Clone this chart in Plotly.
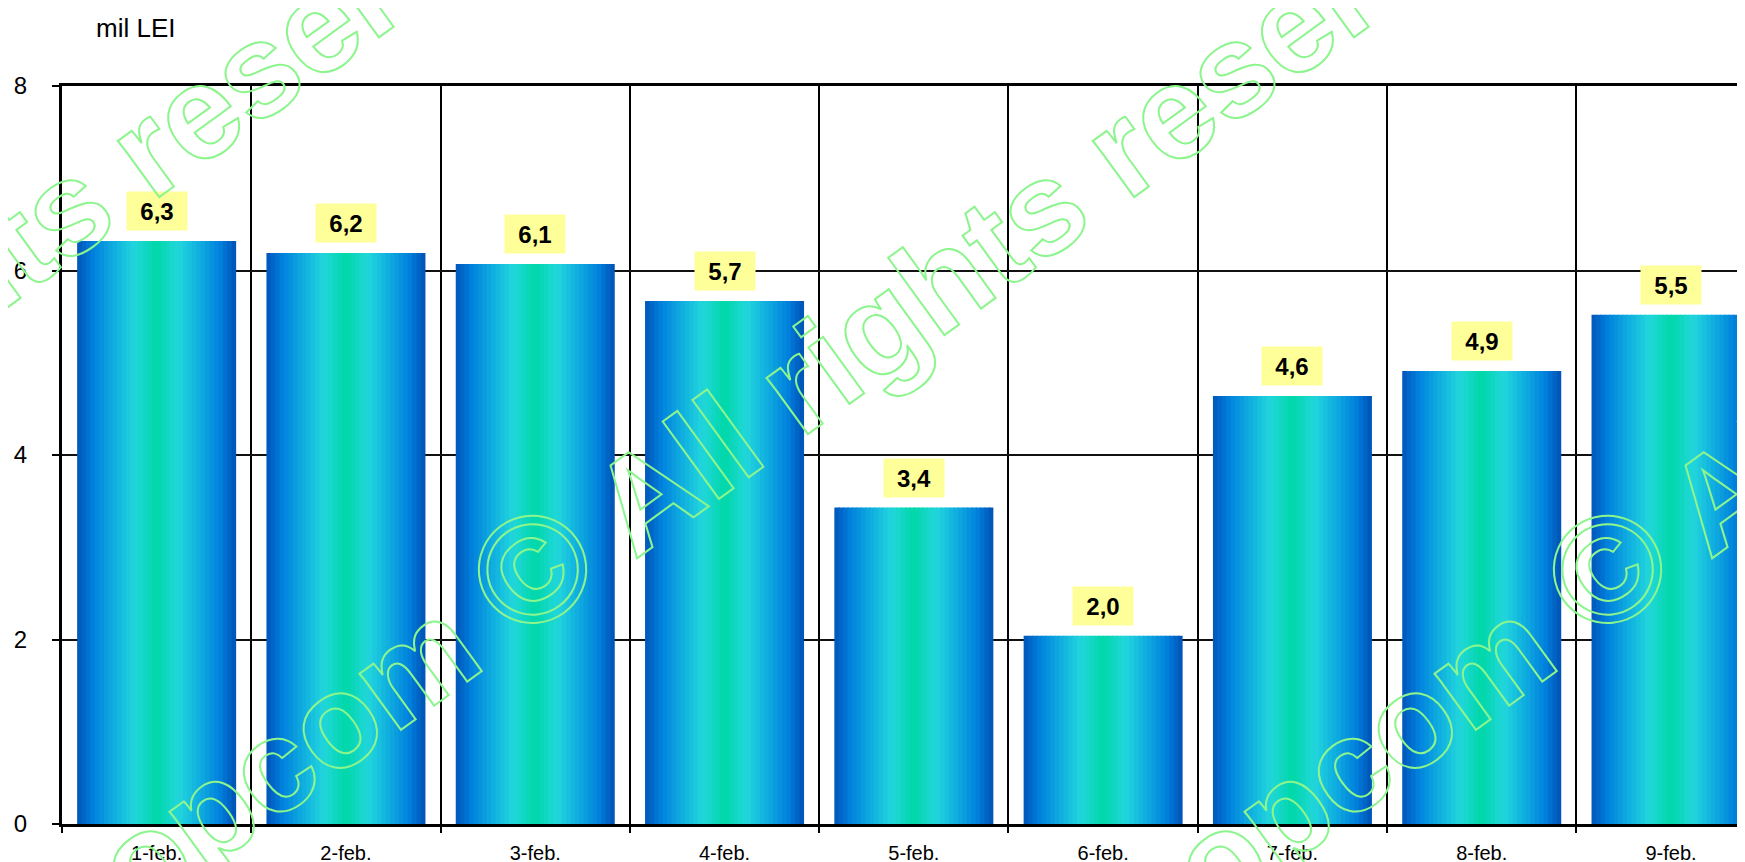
import plotly.graph_objects as go

# ---- data ----
categories = ["1-feb.", "2-feb.", "3-feb.", "4-feb.", "5-feb.", "6-feb.", "7-feb.", "8-feb.", "9-feb."]
values = [6.32, 6.19, 6.07, 5.67, 3.43, 2.04, 4.64, 4.91, 5.52]
y_ticks = [0, 2, 4, 6, 8]
unit_label = "mil LEI"
watermark_parts = ["opcom ", "©", " All rights reserved"]

# ---- style ----
W, H = 1745, 862
ML, MT, MB, MR = 54, 78, 46, 0
FONT = "Arial, Liberation Sans, sans-serif"
BAR_W = 0.84
N_STRIPS = 36
grad_stops = [
    (0.00, (0x00, 0x55, 0xBA)),
    (0.10, (0x00, 0x80, 0xDC)),
    (0.25, (0x12, 0xB4, 0xE0)),
    (0.36, (0x22, 0xD6, 0xDC)),
    (0.50, (0x00, 0xD8, 0xA8)),
    (0.64, (0x22, 0xD6, 0xDC)),
    (0.75, (0x12, 0xB4, 0xE0)),
    (0.90, (0x00, 0x80, 0xDC)),
    (1.00, (0x00, 0x50, 0xB4)),
]


def grad_color(t):
    for (p0, c0), (p1, c1) in zip(grad_stops[:-1], grad_stops[1:]):
        if p0 <= t <= p1:
            f = (t - p0) / (p1 - p0) if p1 > p0 else 0
            c = [round(a + (b - a) * f) for a, b in zip(c0, c1)]
            return "rgb(%d,%d,%d)" % tuple(c)
    return "rgb(%d,%d,%d)" % grad_stops[-1][1]


fig = go.Figure()
sw = BAR_W / N_STRIPS
for i in range(N_STRIPS):
    t = (i + 0.5) / N_STRIPS
    fig.add_trace(go.Bar(
        x=categories, y=values,
        offset=-BAR_W / 2 + i * sw,
        width=sw * (1.25 if i < N_STRIPS - 1 else 1.0),
        marker=dict(color=grad_color(t), line=dict(width=0)),
        hoverinfo="skip", showlegend=False,
    ))

annotations = []
# value labels
for c, v in zip(categories, values):
    annotations.append(dict(
        x=c, y=v, xref="x", yref="y",
        text=("%.1f" % v).replace(".", ","),
        showarrow=False, yanchor="bottom", yshift=10,
        bgcolor="#FFFF99", width=58, height=36,
        font=dict(family=FONT, size=24, color="black", weight="bold"),
    ))

# unit label
plot_w = W - ML - MR
plot_h = H - MT - MB
annotations.append(dict(
    x=(86 - ML) / plot_w, y=(H - MB - 20) / plot_h, xref="paper", yref="paper",
    text=unit_label, showarrow=False, xanchor="left", yanchor="middle",
    font=dict(family=FONT, size=26, color="black"),
))

# watermark (outlined bold text, repeated)
WM_X, WM_Y = 816, 349
wm_text = (watermark_parts[0] + '<span style="font-size:152px">' + watermark_parts[1]
           + '</span>' + watermark_parts[2])
for cx in (WM_X - 975, WM_X, WM_X + 1075):
    annotations.append(dict(
        x=(cx - ML) / plot_w, y=(H - MB - WM_Y) / plot_h, xref="paper", yref="paper",
        text=wm_text, showarrow=False, xanchor="center", yanchor="middle",
        textangle=-36,
        font=dict(family=FONT, size=132, color="#8DF58D", weight="bold"),
    ))

fig.update_layout(
    width=W, height=H,
    margin=dict(l=ML, r=MR, t=MT, b=MB, pad=0),
    paper_bgcolor="white", plot_bgcolor="white",
    barmode="overlay",
    font=dict(family=FONT, color="black"),
    annotations=annotations,
    showlegend=False,
)
fig.update_xaxes(
    type="category", range=[-0.5, 8.433],
    showline=True, linecolor="black", linewidth=3, mirror=True,
    ticks="outside", ticklen=6, tickwidth=1.5, tickcolor="black",
    tickson="boundaries",
    showgrid=True, gridcolor="black", gridwidth=1.5,
    tickfont=dict(family=FONT, size=20, color="black"),
    ticklabelstandoff=9,
)
fig.update_yaxes(
    range=[0, 8], tickvals=y_ticks,
    showline=True, linecolor="black", linewidth=3,
    ticks="outside", ticklen=7, tickwidth=1.5, tickcolor="black",
    showgrid=True, gridcolor="#111111", gridwidth=1.5,
    zeroline=False,
    tickfont=dict(family=FONT, size=24, color="black"),
    ticklabelstandoff=20,
)

post = """
var gd = document.getElementById('{plot_id}');
function outline(){
  gd.querySelectorAll('.annotation-text').forEach(function(t){
    if (t.textContent.indexOf('opcom') >= 0) {
      t.style.fill = 'none';
      t.style.stroke = '#8DF58D';
      t.style.strokeWidth = '2px';
      t.querySelectorAll('tspan').forEach(function(s){
        s.style.fill = 'none';
        s.style.stroke = '#8DF58D';
        s.style.strokeWidth = '2px';
      });
    }
  });
}
outline();
gd.on('plotly_afterplot', outline);
"""
fig.write_html("out.html", post_script=post)
